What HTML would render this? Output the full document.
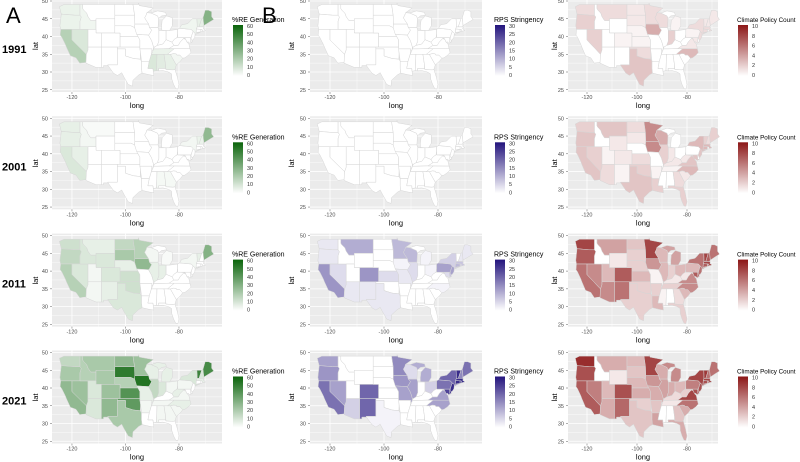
<!DOCTYPE html>
<html><head><meta charset="utf-8">
<style>
html,body{margin:0;padding:0;background:#fff;width:800px;height:462px;overflow:hidden}
svg text{font-family:"Liberation Sans",sans-serif}
</style></head>
<body>
<svg id="s" width="800" height="462" xmlns="http://www.w3.org/2000/svg"></svg>
<script>
const S={
WA:[[-124.7,48.4],[-123,49],[-117,49],[-117,46],[-119,46],[-124,46.3]],
OR:[[-124,46.3],[-119,46],[-117,46],[-116.5,45.5],[-117,44.3],[-117,42],[-124.2,42],[-124.5,43]],
CA:[[-124.2,42],[-120,42],[-120,39],[-114.6,35],[-114.7,32.7],[-117.1,32.5],[-118.5,34],[-120.6,34.6],[-122,36.9],[-122.5,37.8],[-123.8,39.8],[-124.4,40.4]],
NV:[[-120,42],[-114,42],[-114,36.2],[-114.6,35],[-120,39]],
ID:[[-117,49],[-116,49],[-116,47.9],[-115.7,47.5],[-114.5,46.6],[-114,45.6],[-113,44.5],[-111,44.5],[-111,42],[-117,42],[-117,44.3],[-116.5,45.5],[-117,46]],
MT:[[-116,49],[-104,49],[-104,45],[-111,45],[-111,44.5],[-113,44.5],[-114,45.6],[-114.5,46.6],[-115.7,47.5],[-116,47.9]],
WY:[[-111,45],[-104,45],[-104,41],[-111,41]],
UT:[[-114,42],[-111,42],[-111,41],[-109,41],[-109,37],[-114,37]],
AZ:[[-114,37],[-109,37],[-109,31.3],[-111,31.3],[-114.8,32.5],[-114.6,35],[-114,36.2]],
CO:[[-109,41],[-102,41],[-102,37],[-109,37]],
NM:[[-109,37],[-103,37],[-103,32],[-106.6,32],[-106.5,31.8],[-108.2,31.8],[-108.2,31.3],[-109,31.3]],
ND:[[-104,49],[-97.2,49],[-96.6,46],[-104,46]],
SD:[[-104,46],[-96.6,46],[-96.5,43.5],[-96.6,42.5],[-98,43],[-104,43]],
NE:[[-104,43],[-98,43],[-96.6,42.5],[-95.3,40],[-102,40],[-102,41],[-104,41]],
KS:[[-102,40],[-95.3,40],[-94.6,39],[-94.6,37],[-102,37]],
OK:[[-103,37],[-94.6,37],[-94.4,35.4],[-94.5,33.6],[-97,33.8],[-100,34.5],[-100,36.5],[-103,36.5]],
TX:[[-106.6,32],[-103,32],[-103,36.5],[-100,36.5],[-100,34.5],[-97,33.8],[-94.5,33.6],[-94,33],[-94,31],[-93.8,29.7],[-95,29.2],[-97.2,27.7],[-97.4,26],[-99,26.5],[-100.5,28.5],[-101.4,29.8],[-103,29],[-104.5,29.7],[-106.5,31.8]],
MN:[[-97.2,49],[-95.2,49],[-95.2,49.4],[-94.8,48.7],[-89.6,48],[-92,46.7],[-92.3,46],[-92.8,45.3],[-92.3,44.6],[-91.3,43.5],[-96.5,43.5],[-96.6,46]],
IA:[[-96.5,43.5],[-91.3,43.5],[-91,42.5],[-90.2,41.8],[-91.1,40.6],[-91.4,40.4],[-95.8,40.6],[-96.6,42.5]],
MO:[[-95.8,40.6],[-91.4,40.4],[-90.2,38.8],[-89.5,37],[-89.7,36],[-90.4,36],[-90.1,36.5],[-94.6,36.5],[-94.6,39],[-95.3,40]],
AR:[[-94.6,36.5],[-90.1,36.5],[-90.3,35],[-91.1,33],[-94,33],[-94.4,35.4]],
LA:[[-94,33],[-91.1,33],[-91.6,31],[-89.7,31],[-89.6,30.2],[-89.4,29],[-91,29.2],[-93.8,29.7],[-94,31]],
WI:[[-92,46.7],[-90.4,46.6],[-88,45.8],[-87.6,45.1],[-87.8,42.5],[-90.6,42.5],[-91,42.5],[-91.3,43.5],[-92.3,44.6],[-92.8,45.3],[-92.3,46]],
IL:[[-90.6,42.5],[-87.8,42.5],[-87.5,41.7],[-87.5,38.7],[-88.1,37.5],[-89.2,37],[-89.5,37],[-90.2,38.8],[-91.4,40.4],[-91.1,40.6],[-90.2,41.8],[-91,42.5]],
MI:[[-86.5,41.8],[-84.8,41.7],[-83.5,41.7],[-82.5,43],[-82.5,45.3],[-84.7,45.8],[-86.3,44.5],[-86.5,43]],
MIU:[[-90.4,46.6],[-88,45.8],[-87.6,45.1],[-86.5,45.8],[-84.7,46],[-85,46.8],[-88,47.2]],
IN:[[-87.5,41.7],[-84.8,41.7],[-84.8,39.1],[-86,37.9],[-88.1,37.5],[-87.5,38.7]],
OH:[[-84.8,41.7],[-83.5,41.7],[-80.5,42],[-80.5,40.6],[-80.7,39.7],[-81.7,39.2],[-82.6,38.4],[-84.8,39.1]],
KY:[[-89.5,36.5],[-88,36.5],[-83.7,36.6],[-81.9,37.5],[-82.6,38.4],[-84.8,39.1],[-86,37.9],[-88.1,37.5],[-89.2,37]],
TN:[[-90.3,35],[-89.7,36],[-89.5,36.5],[-88,36.5],[-83.7,36.6],[-81.7,36.6],[-84.3,35]],
MS:[[-90.3,35],[-88.2,35],[-88.4,30.4],[-89.6,30.2],[-89.7,31],[-91.6,31],[-91.1,33]],
AL:[[-88.2,35],[-85.6,35],[-85,32],[-85,31],[-87.6,31],[-87.5,30.3],[-88.4,30.4]],
GA:[[-85.6,35],[-83.1,35],[-83,34.7],[-81,32],[-81.5,30.7],[-82.2,30.6],[-84.9,30.7],[-85,32]],
FL:[[-87.6,31],[-85,31],[-84.9,30.7],[-82.2,30.6],[-81.5,30.7],[-80.6,28.5],[-80,26.5],[-80.4,25.2],[-81.2,25.3],[-82,26.5],[-82.7,28],[-82.8,29.5],[-84,30],[-86,30.4],[-87.5,30.3]],
SC:[[-83.1,35],[-82,35.2],[-81,35.1],[-80.8,34.8],[-79.7,34.8],[-78.6,33.9],[-79.5,33],[-81,32],[-83,34.7]],
NC:[[-84.3,35],[-81.7,36.6],[-75.9,36.55],[-75.5,35.5],[-76.5,34.7],[-77.8,34],[-78.6,33.9],[-79.7,34.8],[-80.8,34.8],[-81,35.1],[-82,35.2],[-83.1,35]],
VA:[[-83.7,36.6],[-75.9,36.55],[-76.3,37.9],[-77,38.4],[-77.5,39.2],[-78.3,39.4],[-79.5,38.5],[-80.3,37.5],[-81.9,37.5]],
WV:[[-82.6,38.4],[-81.9,37.5],[-80.3,37.5],[-79.5,38.5],[-78.3,39.4],[-77.8,39.6],[-79.5,39.7],[-80.5,39.7],[-80.5,40.6],[-80.7,39.7],[-81.7,39.2]],
MD:[[-79.5,39.7],[-75.8,39.7],[-75.05,38.45],[-76,38.1],[-76.5,38.5],[-77,38.4],[-77.5,39.2],[-77.8,39.6]],
DE:[[-75.8,39.7],[-75.4,39.8],[-75.05,38.45],[-75.7,38.45]],
PA:[[-80.5,42],[-79.8,42.3],[-75.4,42],[-74.7,41.4],[-75.1,40.6],[-75.4,39.8],[-75.8,39.7],[-80.5,39.7]],
NJ:[[-75.4,39.8],[-75.1,40.6],[-74.7,41.4],[-74,41],[-74,40.4],[-74.1,39.8],[-74.9,38.9],[-75.5,39.4]],
NY:[[-79.8,42.3],[-79,43.3],[-76.8,43.6],[-76,44.2],[-75,45],[-73.3,45],[-73.2,43.6],[-73.2,42.7],[-73.5,42.1],[-73.6,41],[-72,41.2],[-73.8,40.6],[-74,41],[-74.7,41.4],[-75.4,42]],
VT:[[-73.3,45],[-71.5,45],[-72.5,42.7],[-73.2,42.7],[-73.2,43.6]],
NH:[[-71.5,45],[-71,45.3],[-70.7,43.1],[-71,42.7],[-72.5,42.7]],
ME:[[-71,45.3],[-70.2,47.4],[-69,47.4],[-67.8,47],[-67.8,45.6],[-67,44.8],[-69,43.9],[-70.7,43.1]],
MA:[[-73.5,42.1],[-73.2,42.7],[-71,42.7],[-70.6,42.6],[-70.9,42.2],[-70,41.7],[-71.1,41.5],[-71.4,42],[-71.8,42]],
CT:[[-73.5,42.1],[-71.8,42],[-71.8,41.3],[-72.9,41.2],[-73.6,41]],
RI:[[-71.8,42],[-71.4,42],[-71.1,41.5],[-71.8,41.3]]
};
const V={
A:[
{CA:.3,NV:.15,WA:.08,OR:.08,ID:.06,ME:.5,MS:.15,AL:.12,GA:.1,TN:.08,SC:.05,NY:.06,VT:.1,NH:.1},
{CA:.15,NV:.1,WA:.1,OR:.1,ID:.05,ME:.45,VT:.08,NH:.08,NY:.05,MT:.03,AL:.04,GA:.04},
{CA:.3,OR:.25,WA:.2,ID:.15,MT:.1,WY:.15,CO:.15,ND:.25,SD:.35,MN:.3,IA:.45,KS:.2,OK:.2,TX:.15,NM:.1,NV:.15,ME:.5,NE:.1,UT:.05,AZ:.05,IL:.1,IN:.1,NY:.05,VT:.1,WI:.05,MI:.03},
{SD:.85,IA:.9,KS:.7,OK:.65,ND:.45,MN:.4,CA:.45,NV:.4,OR:.35,WA:.25,ID:.3,MT:.35,WY:.35,CO:.4,NM:.45,TX:.35,NE:.3,UT:.15,AZ:.15,VT:.8,ME:.75,IL:.25,IN:.15,NH:.15,NY:.15,MI:.1,MIU:.1,WI:.1,MO:.1,AR:.05,TN:.05,AL:.05,GA:.05,SC:.05,NC:.1,VA:.05,PA:.05,OH:.05,WV:.1,MA:.1}],
B:[{},{},
{CA:.45,MT:.35,CO:.45,MN:.3,WI:.3,PA:.4,NJ:.4,NV:.15,OR:.1,WA:.1,AZ:.1,NM:.1,KS:.15,TX:.1,IA:.05,MO:.1,IL:.15,OH:.05,MI:.05,NC:.05,NH:.1,ME:.1,MA:.25,CT:.3,RI:.2,NY:.2,DE:.25,MD:.15},
{WA:.4,OR:.45,CA:.6,NV:.4,AZ:.2,CO:.65,NM:.65,MN:.5,IA:.45,MO:.4,IL:.4,MI:.35,MIU:.35,OH:.2,PA:.6,NY:.65,NJ:.9,MD:.8,DE:.8,VT:.9,MA:.9,CT:.9,RI:.9,NH:.5,ME:.6,VA:.4,NC:.4,WI:.15,TX:.05}],
C:[
{WA:.15,OR:.2,NV:.2,MT:.15,ND:.1,SD:.1,NE:.05,MN:.15,WI:.15,IA:.35,IN:.2,TX:.25,OK:.15,NC:.3,NY:.15,ME:.1,VT:.1,NH:.1,MA:.15,CT:.15,PA:.05,KS:.05,CO:.05,MI:.05,VA:.1,MD:.1,NJ:.15},
{CA:.25,OR:.25,WA:.2,NV:.2,MT:.25,ND:.15,SD:.1,MN:.5,WI:.35,IA:.5,IL:.2,IN:.1,TX:.25,OK:.2,KS:.15,CO:.1,NM:.05,AZ:.15,UT:.05,WY:.1,NY:.3,NC:.3,VA:.25,ME:.2,VT:.2,NH:.15,MA:.3,CT:.3,KY:.1,TN:.05,GA:.15,FL:.2,SC:.1,AR:.05,LA:.2,NJ:.25,MD:.25,WV:.1},
{WA:.8,OR:.7,CA:.6,NV:.5,MT:.4,WY:.1,UT:.3,AZ:.5,CO:.7,NM:.6,ND:.25,SD:.2,NE:.2,KS:.3,OK:.2,TX:.2,MN:.8,IA:.45,MO:.05,WI:.3,IL:.3,MI:.4,MIU:.4,IN:.2,OH:.3,KY:.1,TN:.2,MS:.05,GA:.15,FL:.2,SC:.3,NC:.5,VA:.5,WV:.1,PA:.3,NY:.6,VT:.8,NH:.7,ME:.6,MA:.8,CT:.7,RI:.6,NJ:.6,MD:.7,DE:.6,LA:.3,AR:.2},
{WA:.9,OR:.75,CA:.7,NV:.55,MT:.35,WY:.1,UT:.3,AZ:.35,CO:.75,NM:.65,ND:.3,SD:.25,NE:.3,KS:.35,OK:.2,TX:.25,MN:.8,IA:.45,MO:.35,WI:.35,IL:.4,MI:.5,MIU:.5,IN:.35,OH:.3,KY:.15,TN:.1,AR:.25,LA:.4,GA:.25,FL:.35,SC:.35,NC:.6,VA:.8,WV:.2,PA:.55,NY:.8,VT:.85,NH:.6,ME:.6,MA:.8,CT:.75,RI:.6,NJ:.75,MD:.75,DE:.6}]
};
const HI={A:[10,100,10],B:[35,20,125],C:[140,22,22]};
function col(k,v){const h=HI[k];return `rgb(${h.map(c=>Math.round(255+(c-255)*v)).join(',')})`;}
const P={A:{gx:52,gw:170,a:2.675,x0:58.6,lat:16,title:'%RE Generation',tf:7,lx:232,labs:[60,50,40,30,20,10,0]},
B:{gx:310,gw:172,a:2.7,x0:316.5,lat:18,title:'RPS Stringency',tf:7,lx:494,labs:[30,25,20,15,10,5,0]},
C:{gx:568,gw:150,a:2.5,x0:574.5,lat:13,title:'Climate Policy Count',tf:6.3,lx:737,labs:[10,8,6,4,2,0]}};
const rows=[1,118.3,235.6,352.5],years=['1991','2001','2011','2021'],b=3.55;
let o='<defs>';
for(const k in HI)o+=`<linearGradient id="g${k}" x1="0" y1="0" x2="0" y2="1"><stop offset="0" stop-color="${col(k,1)}"/><stop offset="1" stop-color="#fff"/></linearGradient>`;
o+='</defs>';
o+=`<text x="6" y="23" font-size="22">A</text><text x="262" y="23" font-size="22">B</text><text x="567" y="23" font-size="22">C</text>`;
rows.forEach((T,r)=>{
 o+=`<text x="2" y="${T+52}" font-size="11" font-weight="bold">${years[r]}</text>`;
 for(const k in P){const p=P[k];const X=l=>p.x0+(l+125)*p.a,Y=t=>T+(50-t)*b;
  const gt=T-2,gb=T+91;
  o+=`<rect x="${p.gx}" y="${gt}" width="${p.gw}" height="${gb-gt}" fill="#ebebeb"/>`;
  for(let t=25;t<=50;t+=2.5){const y=Y(t);if(y<gt||y>gb)continue;o+=`<line x1="${p.gx}" x2="${p.gx+p.gw}" y1="${y}" y2="${y}" stroke="#fff" stroke-width="${t%5?0.4:0.8}"/>`;}
  for(let l=-130;l<=-60;l+=10){const x=X(l);if(x<p.gx||x>p.gx+p.gw)continue;o+=`<line x1="${x}" x2="${x}" y1="${gt}" y2="${gb}" stroke="#fff" stroke-width="${l%20?0.4:0.8}"/>`;}
  const vals=V[k][r];
  for(const s in S){const v=vals[s]||0;o+=`<polygon points="${S[s].map(q=>X(q[0]).toFixed(1)+','+Y(q[1]).toFixed(1)).join(' ')}" fill="${col(k,v)}" stroke="#d6d6d6" stroke-width="0.5"/>`;}
  for(let t=25;t<=50;t+=5){const y=Y(t);o+=`<text x="${p.gx-4}" y="${y+2}" font-size="5.5" fill="#4d4d4d" text-anchor="end">${t}</text><line x1="${p.gx-2}" x2="${p.gx}" y1="${y}" y2="${y}" stroke="#333" stroke-width="0.4"/>`;}
  for(const l of [-120,-100,-80]){const x=X(l);o+=`<text x="${x}" y="${gb+7}" font-size="5.5" fill="#4d4d4d" text-anchor="middle">${l}</text><line x1="${x}" x2="${x}" y1="${gb}" y2="${gb+2}" stroke="#333" stroke-width="0.4"/>`;}
  o+=`<text x="${p.gx+p.gw/2}" y="${gb+16}" font-size="7.5" text-anchor="middle">long</text>`;
  o+=`<text transform="translate(${p.gx-p.lat+2},${T+45}) rotate(-90)" font-size="7.5" text-anchor="middle">lat</text>`;
  o+=`<text x="${p.lx}" y="${T+21}" font-size="${p.tf}">${p.title}</text>`;
  o+=`<rect x="${p.lx+1}" y="${T+24}" width="10" height="51" fill="url(#g${k})"/>`;
  p.labs.forEach((v,i)=>{const y=T+25+i*49/(p.labs.length-1);o+=`<text x="${p.lx+15}" y="${y+2}" font-size="5.5" fill="#333">${v}</text>`;});
 }
});
document.getElementById('s').innerHTML=o;
</script>
</body></html>
